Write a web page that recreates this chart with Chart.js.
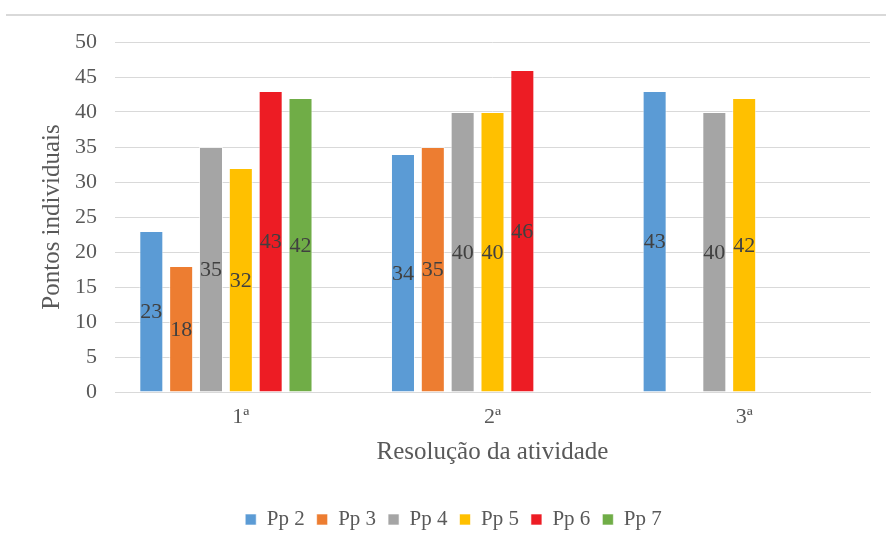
<!DOCTYPE html>
<html>
<head>
<meta charset="utf-8">
<script src="https://cdn.jsdelivr.net/npm/chart.js@4/dist/chart.umd.min.js"></script>
<style>
  html, body { margin: 0; padding: 0; background: #fff; overflow: hidden; }
  #wrap { position: relative; width: 886px; height: 536px; overflow: hidden; }
  #topline { position: absolute; left: 6px; right: 0; top: 14px; height: 0; border-top: 2px solid #d9d9d9; }
  canvas { display: block; }
</style>
</head>
<body>
<div id="wrap">
  <div id="topline"></div>
  <canvas id="chart" width="886" height="540"></canvas>
</div>
<script>
// Dados do gráfico
const categorias = ['1ª', '2ª', '3ª'];
const series = ['Pp 2', 'Pp 3', 'Pp 4', 'Pp 5', 'Pp 6', 'Pp 7', ''];
const pp2 = [23, 34, 43];
const pp3 = [18, 35, null];
const pp4 = [35, 40, 40];
const pp5 = [32, 40, 42];
const pp6 = [43, 46, null];
const pp7 = [42, null, null];
const vazio = [null, null, null]; // serie sem dados (ocupa espaço como no original)
const ticksY = [0, 5, 10, 15, 20, 25, 30, 35, 40, 45, 50];

const valores = [pp2, pp3, pp4, pp5, pp6, pp7, vazio];
const cores = ['#5B9BD5', '#ED7D31', '#A5A5A5', '#FFC000', '#ED1C24', '#70AD47', '#ffffff'];

const fonte = "'Liberation Serif', 'Times New Roman', serif";

// Plugin para rótulos no centro das barras
const rotulos = {
    id: 'rotulos',
    afterDatasetsDraw(chart) {
        const ctx = chart.ctx;
        ctx.save();
        ctx.font = '22px ' + fonte;
        ctx.fillStyle = '#404040';
        ctx.textAlign = 'center';
        ctx.textBaseline = 'middle';
        chart.data.datasets.forEach((ds, i) => {
            const meta = chart.getDatasetMeta(i);
            meta.data.forEach((bar, j) => {
                const v = ds.data[j];
                if (v === null || v === undefined) return;
                ctx.fillText(String(v), bar.x, (bar.y + bar.base) / 2 + 1);
            });
        });
        ctx.restore();
    }
};

const ctx = document.getElementById('chart').getContext('2d');
new Chart(ctx, {
    type: 'bar',
    data: {
        labels: categorias,
        datasets: series.map((nome, i) => ({
            label: nome,
            data: valores[i],
            backgroundColor: cores[i],
            borderColor: 'rgba(255,255,255,0.6)',
            borderWidth: 1,
            categoryPercentage: 0.83,
            barPercentage: 0.805
        }))
    },
    options: {
        responsive: false,
        animation: false,
        layout: { padding: { top: 42, right: 16, left: 37, bottom: 0 } },
        plugins: {
            tooltip: { enabled: false },
            legend: {
                position: 'bottom',
                labels: {
                    filter: (item) => item.text !== '',
                    boxWidth: 11,
                    boxHeight: 11,
                    padding: 12,
                    color: '#595959',
                    font: { family: fonte, size: 21 }
                }
            }
        },
        scales: {
            x: {
                afterFit: (axis) => { axis.height = 105; },
                grid: { display: false },
                border: { display: true, color: '#d9d9d9', width: 1 },
                ticks: { color: '#595959', font: { family: fonte, size: 22 }, padding: 4 },
                title: {
                    display: true,
                    text: 'Resolução da atividade',
                    color: '#595959',
                    font: { family: fonte, size: 25 },
                    padding: { top: 6, bottom: 30 }
                }
            },
            y: {
                min: 0,
                max: 50,
                afterFit: (axis) => { axis.width = 78; },
                afterBuildTicks: (axis) => { axis.ticks = ticksY.map(v => ({ value: v })); },
                grid: { color: '#d9d9d9', lineWidth: 1, drawTicks: false },
                border: { display: false },
                ticks: { color: '#595959', font: { family: fonte, size: 22 }, padding: 18 },
                title: {
                    display: true,
                    text: 'Pontos individuais',
                    color: '#595959',
                    font: { family: fonte, size: 25 },
                    padding: { top: 0, bottom: 8 }
                }
            }
        }
    },
    plugins: [rotulos]
});
</script>
</body>
</html>
